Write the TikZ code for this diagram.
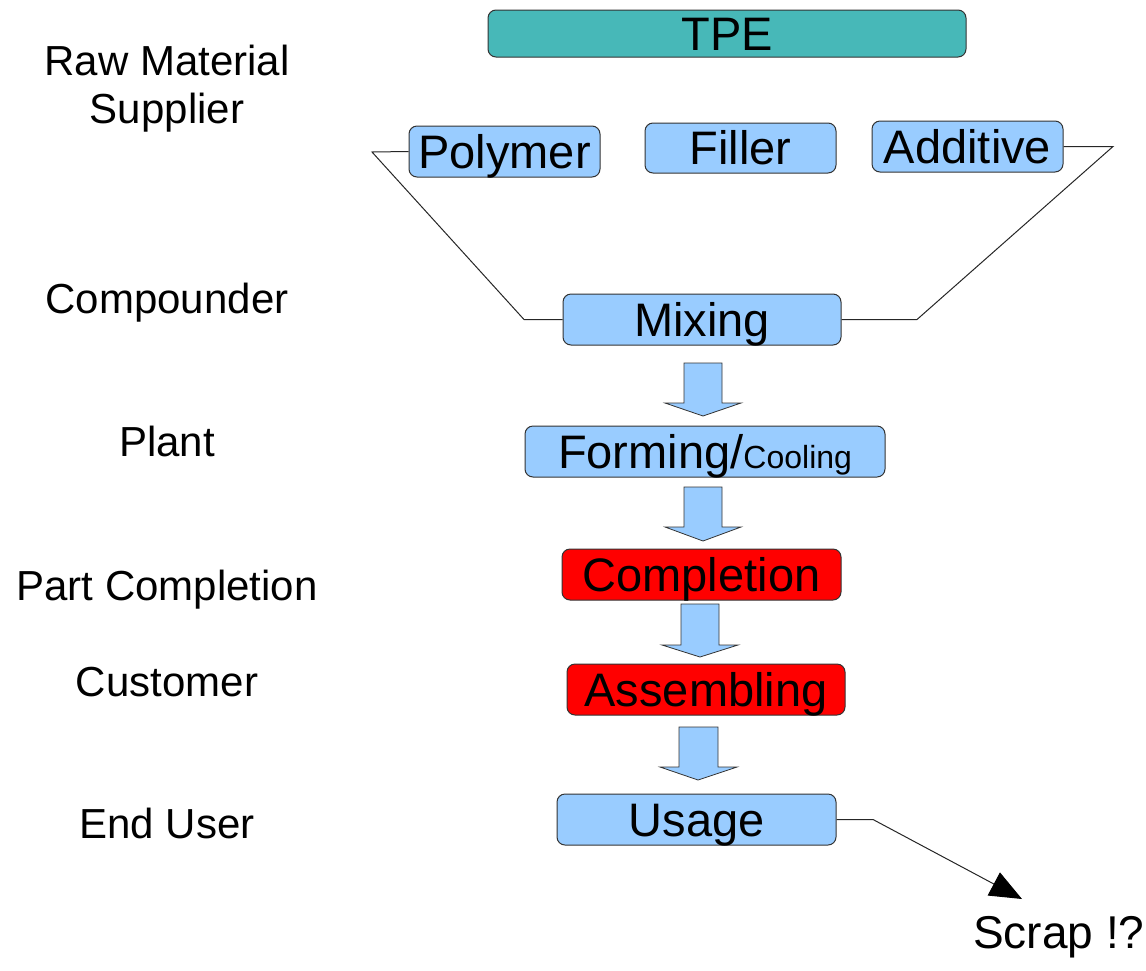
\documentclass[tikz,border=0pt]{standalone}
\usepackage{fontspec}
\setmainfont{Liberation Sans}
\usetikzlibrary{arrows.meta}
\definecolor{boxblue}{HTML}{99CCFF}
\definecolor{boxred}{HTML}{FF0000}
\definecolor{boxteal}{HTML}{47B8B8}
\begin{document}
\begin{tikzpicture}[x=1pt,y=-1pt,
  box/.style={draw=black!80, line width=1pt, rounded corners=8pt, inner sep=0pt,
    font=\fontsize{47}{54}\selectfont, text height=33.6pt, text depth=0pt, minimum height=51pt},
  bluebox/.style={box, fill=boxblue},
  redbox/.style={box, fill=boxred},
  lab/.style={font=\fontsize{42}{48}\selectfont, anchor=base},
  blockarrow/.style={draw=black!80, line width=0.8pt, fill=boxblue},
  thinline/.style={draw=black!85, line width=1pt}
]
\useasboundingbox (0,0) rectangle (1146,970);

% left labels
\node[lab, align=center] (raw) at (167,123) {Raw Material\\Supplier};
\node[lab] (cmp) at (167,313) {Compounder};
\node[lab] (plant) at (167,456) {Plant};
\node[lab] (part) at (167,600) {Part Completion};
\node[lab] (cust) at (167,696) {Customer};
\node[lab] (end) at (167,838) {End User};

% boxes
\node[box, fill=boxteal, minimum width=478pt, minimum height=47pt] (tpe) at (727,33.5) {TPE};
\node[bluebox, minimum width=191pt] (poly) at (504.5,151.5) {Polymer};
\node[bluebox, minimum width=191pt, minimum height=50pt] (fill) at (740.5,148) {Filler};
\node[bluebox, minimum width=191pt] (add) at (967.5,146.5) {Additive};
\node[bluebox, minimum width=278pt] (mix) at (702,319.5) {Mixing};
\node[bluebox, minimum width=360pt] (form) at (705,451.5) {Forming/{\fontsize{32}{36}\selectfont Cooling}};
\node[redbox, minimum width=279pt] (comp) at (701.5,574.5) {Completion};
\node[redbox, minimum width=278pt] (asm) at (706,689.5) {Assembling};
\node[bluebox, minimum width=279pt] (use) at (696.5,819.5) {Usage};

% funnel
\coordinate (fl1) at (372,152);
\coordinate (fl2) at (524,319.5);
\draw[thinline] (poly.west) -- (fl1) -- (fl2) -- (mix.west);
\coordinate (fr1) at (1113,146.5);
\coordinate (fr2) at (917,319.5);
\draw[thinline] (add.east) -- (fr1) -- (fr2) -- (mix.east);

% block arrows
\draw[blockarrow] (684,363) -- (722,363) -- (722,403) -- (741,403) -- (703,416) -- (665,403) -- (684,403) -- cycle;
\draw[blockarrow] (684,487) -- (722,487) -- (722,527) -- (741,527) -- (703,541) -- (665,527) -- (684,527) -- cycle;
\draw[blockarrow] (681,604) -- (719,604) -- (719,645) -- (738,645) -- (700,657) -- (662,645) -- (681,645) -- cycle;
\draw[blockarrow] (679,727) -- (718,727) -- (718,767) -- (737,767) -- (698,780) -- (660,767) -- (679,767) -- cycle;

% scrap
\node[font=\fontsize{46}{52}\selectfont, anchor=base west, inner sep=0pt] (scrap) at (973,948) {Scrap !?};
\coordinate (sb) at (873,819.5);
\coordinate (st) at (1022,899);
\draw[thinline, -{Triangle[length=32pt,width=26pt,color=black]}] (use.east) -- (sb) -- (st);
\end{tikzpicture}
\end{document}
